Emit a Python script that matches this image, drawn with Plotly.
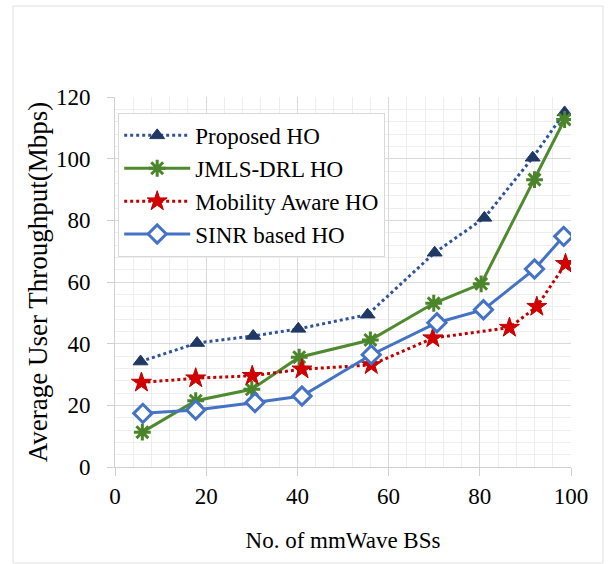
import plotly.graph_objects as go

x_proposed = [5.6, 18, 30.3, 40.2, 55.4, 70.1, 81, 91.6, 98.6]
y_proposed = [34.2, 40.2, 42.5, 44.8, 49.4, 69.5, 80.8, 100.3, 115]
x_jmls = [6, 17.7, 30, 40.4, 56, 69.9, 80.3, 92, 98.6]
y_jmls = [11.3, 21.5, 25.2, 35.6, 41.2, 53.1, 59.4, 93.2, 112.7]
x_mob = [5.8, 17.7, 30.1, 41, 56.2, 69.7, 86.5, 92.5, 98.8]
y_mob = [27.4, 28.8, 29.6, 31.7, 33.1, 41.8, 45.2, 52, 65.9]
x_sinr = [6.1, 17.7, 30.7, 41, 56.2, 70.6, 80.8, 92, 98.4]
y_sinr = [17.4, 18.5, 20.9, 23, 36.4, 46.8, 51, 64.2, 74.8]

names = ["Proposed HO", "JMLS-DRL HO", "Mobility Aware HO", "SINR based HO"]

FONT = "Liberation Serif, Times New Roman, serif"

fig = go.Figure()
fig.add_trace(go.Scatter(
    x=x_proposed, y=y_proposed, name=names[0], mode="lines+markers",
    line=dict(color="#2f5597", width=3, dash="dot"),
    marker=dict(symbol="triangle-up", size=13, color="#1f3864",
                line=dict(color="#1f3864", width=1)),
))
fig.add_trace(go.Scatter(
    x=x_jmls, y=y_jmls, name=names[1], mode="lines+markers",
    line=dict(color="#4f8a2e", width=3),
    marker=dict(symbol="asterisk-open", size=14, color="#4a852a",
                line=dict(color="#4a852a", width=3)),
))
fig.add_trace(go.Scatter(
    x=x_mob, y=y_mob, name=names[2], mode="lines+markers",
    line=dict(color="#c00000", width=3, dash="dot"),
    marker=dict(symbol="star", size=15, color="#d40000",
                line=dict(color="#c00000", width=1)),
))
fig.add_trace(go.Scatter(
    x=x_sinr, y=y_sinr, name=names[3], mode="lines+markers",
    line=dict(color="#4472c4", width=3),
    marker=dict(symbol="diamond", size=14, color="white",
                line=dict(color="#4472c4", width=3)),
))

fig.update_layout(
    width=608, height=564,
    margin=dict(l=115, r=37, t=97, b=97),
    paper_bgcolor="white", plot_bgcolor="white",
    font=dict(family=FONT, size=22, color="black"),
    showlegend=True,
    legend=dict(
        x=0.007, y=0.957, xanchor="left", yanchor="top",
        bgcolor="white", bordercolor="#d9d9d9", borderwidth=1,
        font=dict(family=FONT, size=23, color="black"),
        tracegroupgap=0, itemwidth=66,
    ),
    xaxis=dict(
        range=[0, 100], tickmode="linear", tick0=0, dtick=20,
        showgrid=True, gridcolor="#d9d9d9", gridwidth=1,
        minor=dict(dtick=4, showgrid=True, gridcolor="#eeeeee", gridwidth=1),
        showline=True, linecolor="#d0d0d0", linewidth=1,
        ticks="outside", ticklen=8, tickcolor="#d0d0d0",
        zeroline=False,
        title=dict(text="No. of mmWave BSs", font=dict(family=FONT, size=23), standoff=24),
        tickfont=dict(family=FONT, size=23),
    ),
    yaxis=dict(
        range=[0, 120], tickmode="linear", tick0=0, dtick=20,
        showgrid=True, gridcolor="#d9d9d9", gridwidth=1,
        minor=dict(dtick=4, showgrid=True, gridcolor="#eeeeee", gridwidth=1),
        showline=True, linecolor="#d0d0d0", linewidth=1,
        ticks="outside", ticklen=7, tickcolor="#d0d0d0",
        ticklabelstandoff=12,
        zeroline=False,
        title=dict(text="Average User Throughput(Mbps)", font=dict(family=FONT, size=27), standoff=0),
        tickfont=dict(family=FONT, size=23),
    ),
    shapes=[dict(
        type="rect", xref="paper", yref="paper",
        x0=(13 - 115) / 456, x1=(603 - 115) / 456,
        y0=(467 - 563) / 370, y1=(467 - 6) / 370,
        line=dict(color="#e0e0e0", width=1), layer="below",
    )],
)

fig.write_html("out.html")
